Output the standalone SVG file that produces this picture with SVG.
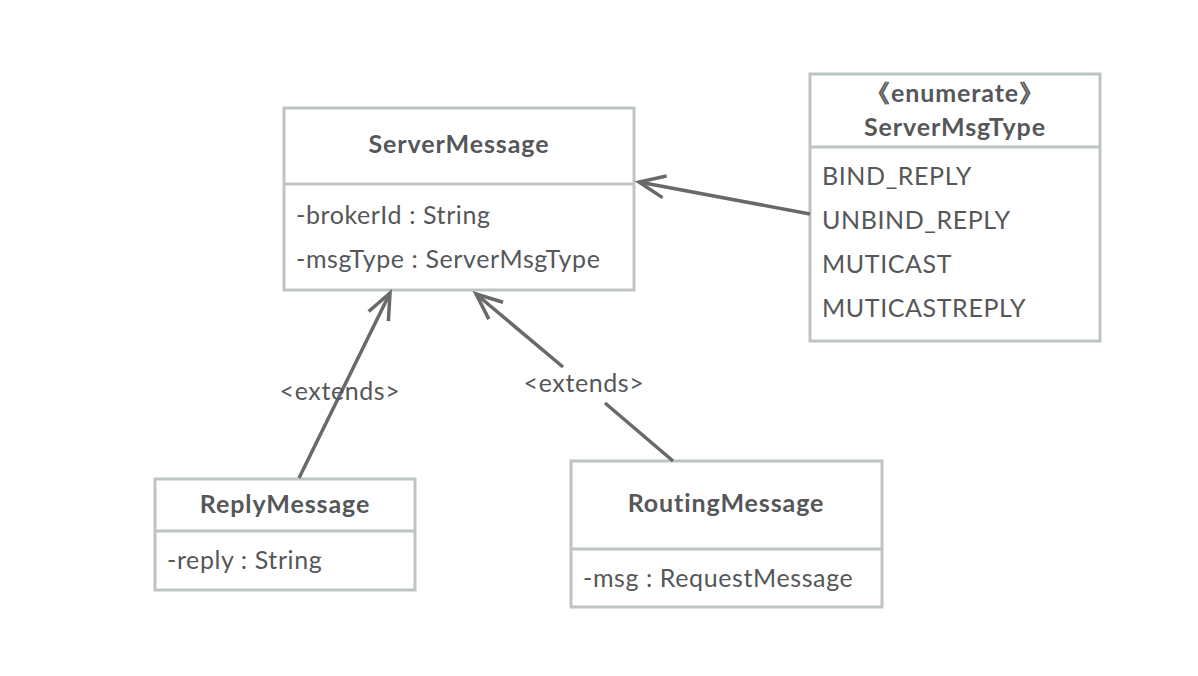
<svg xmlns="http://www.w3.org/2000/svg" width="1198" height="676" viewBox="0 0 1198 676">
<style>
.box{fill:#fff;stroke:#bec3c5;stroke-width:3}
.div{stroke:#bec3c5;stroke-width:3}
.t{font-family:Lato,"Open Sans",sans-serif;fill:#555759;font-size:25px;letter-spacing:0.6px}
.b{font-weight:bold;text-anchor:middle;letter-spacing:0.9px}
.c{text-anchor:middle}
.ln{stroke:#67696b;stroke-width:3.5;fill:none}
</style>
<defs>
<marker id="arr" markerUnits="userSpaceOnUse" markerWidth="40" markerHeight="40" refX="30" refY="13" orient="auto" viewBox="0 0 40 26">
<path d="M4,2 L30,13 L4,24" fill="none" stroke="#67696b" stroke-width="3.5"/>
</marker>
</defs>
<rect width="1198" height="676" fill="#fff"/>
<g id="ServerMessage">
<rect class="box" x="284" y="108" width="350" height="182"/>
<line class="div" x1="284" y1="184" x2="634" y2="184"/>
<text class="t b" x="459" y="153">ServerMessage</text>
<text class="t" x="296" y="224">-brokerId : String</text>
<text class="t" x="296" y="268">-msgType : ServerMsgType</text>
</g>
<g id="ServerMsgType">
<rect class="box" x="810" y="74" width="290" height="267"/>
<line class="div" x1="810" y1="147" x2="1100" y2="147"/>
<text class="t b" x="955" y="102">《enumerate》</text>
<text class="t b" x="955" y="136">ServerMsgType</text>
<text class="t" x="822" y="185">BIND_REPLY</text>
<text class="t" x="822" y="229">UNBIND_REPLY</text>
<text class="t" x="822" y="273">MUTICAST</text>
<text class="t" x="822" y="317">MUTICASTREPLY</text>
</g>
<g id="ReplyMessage">
<rect class="box" x="155" y="479" width="260" height="111"/>
<line class="div" x1="155" y1="531" x2="415" y2="531"/>
<text class="t b" x="285" y="513">ReplyMessage</text>
<text class="t" x="167" y="569">-reply : String</text>
</g>
<g id="RoutingMessage">
<rect class="box" x="571" y="461" width="311" height="146"/>
<line class="div" x1="571" y1="549" x2="882" y2="549"/>
<text class="t b" x="726" y="512">RoutingMessage</text>
<text class="t" x="583" y="587">-msg : RequestMessage</text>
</g>
<g id="connectors">
<line class="ln" x1="810" y1="214" x2="639" y2="182" marker-end="url(#arr)"/>
<line class="ln" x1="299" y1="478" x2="390" y2="293" marker-end="url(#arr)"/>
<text class="t c" x="340" y="400">&lt;extends&gt;</text>
<polyline class="ln" points="673,461 605,403"/>
<polyline class="ln" points="563,367 476,294" marker-end="url(#arr)"/>
<text class="t c" x="584" y="392">&lt;extends&gt;</text>
</g>
</svg>
